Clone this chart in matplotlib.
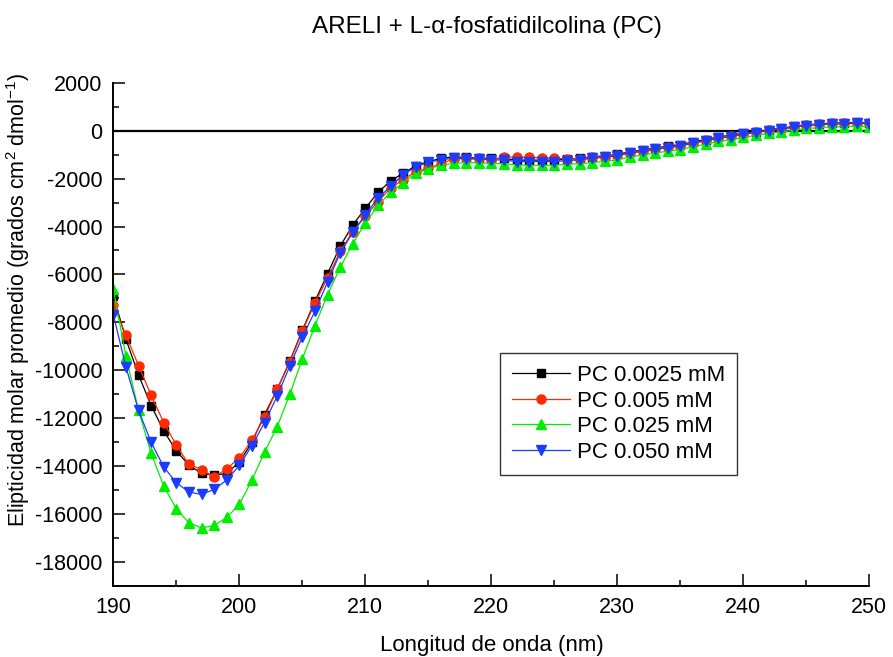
import matplotlib
matplotlib.use('Agg')
import matplotlib.pyplot as plt
import numpy as np
from matplotlib.ticker import MultipleLocator

plt.rcParams['font.family'] = ['Liberation Sans', 'DejaVu Sans']
plt.rcParams['mathtext.fontset'] = 'custom'
plt.rcParams['mathtext.rm'] = 'Liberation Sans'
plt.rcParams['mathtext.it'] = 'Liberation Sans:italic'
plt.rcParams['axes.unicode_minus'] = False

# wavelength (nm), one point per nm
wavelength = list(range(190, 251))

pc_0025 = [-6890, -8700, -10190, -11470, -12530, -13360, -13960, -14300, -14380, -14300,
           -13830, -13010, -11850, -10800, -9630, -8330, -7120, -5970, -4830, -3940,
           -3240, -2580, -2100, -1780, -1470, -1290, -1160, -1090, -1120, -1130,
           -1160, -1160, -1230, -1230, -1230, -1230, -1190, -1160, -1090, -1050,
           -990, -880, -810, -720, -650, -580, -470, -370, -260, -190,
           -100, -40, 40, 100, 180, 250, 280, 320, 320, 350, 320]

pc_005 = [-7260, -8540, -9800, -11040, -12180, -13120, -13930, -14140, -14460, -14110,
          -13650, -12920, -11960, -10780, -9670, -8370, -7190, -6150, -5040, -4210,
          -3580, -2960, -2400, -2050, -1710, -1570, -1380, -1180, -1150, -1150,
          -1220, -1100, -1110, -1100, -1140, -1150, -1180, -1180, -1120, -1080,
          -1030, -920, -850, -760, -690, -620, -510, -410, -300, -230,
          -140, -70, 20, 80, 160, 230, 260, 300, 300, 330, 300]

pc_025 = [-6610, -9420, -11670, -13470, -14830, -15780, -16360, -16580, -16470, -16140,
          -15600, -14580, -13420, -12360, -11010, -9530, -8140, -6850, -5710, -4720,
          -3860, -3120, -2580, -2170, -1780, -1610, -1430, -1370, -1330, -1340,
          -1370, -1380, -1430, -1450, -1450, -1440, -1400, -1380, -1330, -1280,
          -1220, -1100, -1020, -930, -860, -790, -670, -570, -450, -380,
          -280, -200, -110, -60, 20, 90, 120, 160, 160, 190, 160]

pc_050 = [-7680, -9860, -11670, -13000, -14030, -14690, -15080, -15180, -14970, -14580,
          -13970, -13140, -12190, -11080, -9830, -8610, -7540, -6320, -5110, -4250,
          -3510, -2820, -2330, -1830, -1520, -1310, -1220, -1150, -1180, -1190,
          -1220, -1220, -1290, -1290, -1290, -1290, -1250, -1220, -1150, -1110,
          -1050, -930, -870, -780, -710, -640, -530, -430, -320, -250,
          -150, -80, 0, 60, 140, 210, 240, 280, 280, 310, 280]

labels = ['PC 0.0025 mM', 'PC 0.005 mM', 'PC 0.025 mM', 'PC 0.050 mM']

fig = plt.figure(figsize=(8.93, 6.57), dpi=100)
ax = fig.add_axes([0.1269, 0.1081, 0.8466, 0.766])

# zero line
ax.axhline(0, color='black', lw=1.6, zorder=1)

ax.plot(wavelength, pc_0025, color='black', lw=0.9, marker='s', ms=5.5, label=labels[0])
ax.plot(wavelength, pc_005, color='#ff2a00', lw=0.9, marker='o', ms=6.5, label=labels[1])
ax.plot(wavelength, pc_025, color='#00ee00', lw=0.9, marker='^', ms=6.5, label=labels[2])
ax.plot(wavelength, pc_050, color='#1a3cff', lw=0.9, marker='v', ms=6.5, label=labels[3])

ax.set_xlim(190, 250)
ax.set_ylim(-19000, 2000)
ax.xaxis.set_major_locator(MultipleLocator(10))
ax.xaxis.set_minor_locator(MultipleLocator(5))
ax.yaxis.set_major_locator(MultipleLocator(2000))
ax.yaxis.set_minor_locator(MultipleLocator(1000))

for s in ['top', 'right']:
    ax.spines[s].set_visible(False)
for s in ['left', 'bottom']:
    ax.spines[s].set_linewidth(1.4)

ax.tick_params(which='major', direction='in', length=8.6, width=1.1, labelsize=15.5, pad=8)
ax.tick_params(which='minor', direction='in', length=4.5, width=1.1)

fig.text(487 / 893, 1 - 27 / 657, 'ARELI + L-\u03b1-fosfatidilcolina (PC)', fontsize=17.5,
         ha='center', va='center')
fig.text(492 / 893, 1 - 645 / 657, 'Longitud de onda (nm)', fontsize=16,
         ha='center', va='center')
fig.text(18 / 893, 1 - 300 / 657, 'Elipticidad molar promedio (grados cm$^{2}$ dmol$^{-1}$)',
         fontsize=15.5, rotation=90, ha='center', va='center')

leg = ax.legend(loc='upper left', bbox_to_anchor=(500 / 893, 1 - 353 / 657),
                bbox_transform=fig.transFigure, fontsize=16, frameon=True,
                fancybox=False, framealpha=1, edgecolor='#333333', borderaxespad=0,
                handlelength=2.6, labelspacing=0.2, borderpad=0.55, handletextpad=0.3)
leg.get_frame().set_linewidth(1.0)

fig.savefig('out.png', dpi=100)
